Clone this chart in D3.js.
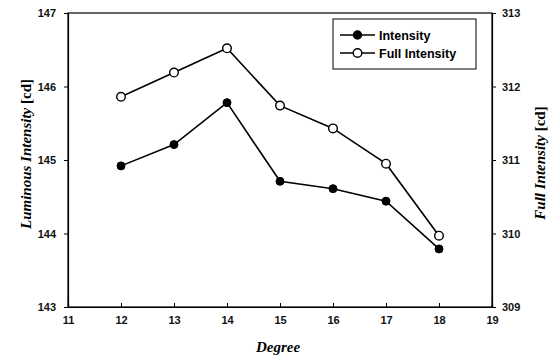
<!DOCTYPE html>
<html><head><meta charset="utf-8">
<script src="https://cdn.jsdelivr.net/npm/d3@7"></script>
<style>body{margin:0;background:#fff}svg{display:block}</style>
</head><body>
<svg id="c" width="551" height="360"></svg>
<script>
const degrees = [12, 13, 14, 15, 16, 17, 18];
const intensity = [144.92, 145.21, 145.78, 144.71, 144.61, 144.44, 143.79];
const fullIntensity = [311.86, 312.19, 312.52, 311.74, 311.43, 310.95, 309.97];
const xTicks = [11, 12, 13, 14, 15, 16, 17, 18, 19];
const yLeftTicks = [143, 144, 145, 146, 147];
const yRightTicks = [309, 310, 311, 312, 313];
const seriesNames = ["Intensity", "Full Intensity"];

const svg = d3.select("#c");
const L = 68, R = 492, T = 13, B = 307;
const x = d3.scaleLinear().domain([11, 19]).range([L, R]);
const yL = d3.scaleLinear().domain([143, 147]).range([B, T]);
const yR = d3.scaleLinear().domain([309, 313]).range([B, T]);
const tickFont = "bold 11px 'Liberation Sans', Arial, sans-serif";

// frame
svg.append("rect").attr("x", L).attr("y", T).attr("width", R - L).attr("height", B - T)
  .attr("fill", "none").attr("stroke", "#000").attr("stroke-width", 1.2);

// axes
const ax = svg.append("g").attr("transform", `translate(0,${B})`)
  .call(d3.axisBottom(x).tickValues(xTicks).tickSize(-4).tickPadding(9).tickFormat(d3.format("d")));
const ayl = svg.append("g").attr("transform", `translate(${L},0)`)
  .call(d3.axisLeft(yL).tickValues(yLeftTicks).tickSize(4).tickPadding(8).tickFormat(d3.format("d")));
const ayr = svg.append("g").attr("transform", `translate(${R},0)`)
  .call(d3.axisRight(yR).tickValues(yRightTicks).tickSize(4).tickPadding(6).tickFormat(d3.format("d")));
[ax, ayl, ayr].forEach(g => {
  g.select(".domain").attr("stroke", "#000").attr("stroke-width", 1.2);
  g.selectAll(".tick line").attr("stroke", "#000").attr("stroke-width", 1);
  g.selectAll(".tick text").style("font", tickFont).attr("fill", "#111");
});

// lines
const lineL = d3.line().x((d, i) => x(degrees[i])).y(d => yL(d));
const lineR = d3.line().x((d, i) => x(degrees[i])).y(d => yR(d));
svg.append("path").datum(intensity).attr("d", lineL).attr("fill", "none").attr("stroke", "#000").attr("stroke-width", 1.6);
svg.append("path").datum(fullIntensity).attr("d", lineR).attr("fill", "none").attr("stroke", "#000").attr("stroke-width", 1.6);
svg.selectAll(".pi").data(intensity).enter().append("circle")
  .attr("cx", (d, i) => x(degrees[i])).attr("cy", d => yL(d)).attr("r", 4)
  .attr("fill", "#000").attr("stroke", "#000");
svg.selectAll(".pf").data(fullIntensity).enter().append("circle")
  .attr("cx", (d, i) => x(degrees[i])).attr("cy", d => yR(d)).attr("r", 4.3)
  .attr("fill", "#fff").attr("stroke", "#000").attr("stroke-width", 1.4);

// legend
const lg = svg.append("g");
lg.append("rect").attr("x", 333).attr("y", 19).attr("width", 143).attr("height", 50)
  .attr("fill", "#fff").attr("stroke", "#000").attr("stroke-width", 1);
seriesNames.forEach((n, i) => {
  const yy = 35 + i * 18;
  lg.append("line").attr("x1", 340).attr("x2", 375).attr("y1", yy).attr("y2", yy).attr("stroke", "#000").attr("stroke-width", 1.6);
  lg.append("circle").attr("cx", 357.5).attr("cy", yy).attr("r", i === 0 ? 4 : 4.3)
    .attr("fill", i === 0 ? "#000" : "#fff").attr("stroke", "#000").attr("stroke-width", 1.4);
  lg.append("text").attr("x", 379).attr("y", yy).attr("dy", "0.36em").text(n)
    .style("font", "bold 12.5px 'Liberation Sans', Arial, sans-serif");
});

// axis titles
const titleFont = "bold italic 15px 'Liberation Serif', 'Times New Roman', serif";
function title(t, transform, main) {
  const tx = svg.append("text").attr("transform", transform).attr("text-anchor", "middle").style("font", titleFont);
  tx.append("tspan").text(main);
  if (t) tx.append("tspan").style("font-style", "normal").text(" [cd]");
  return tx;
}
svg.append("text").attr("x", 278).attr("y", 352).attr("text-anchor", "middle").text("Degree").style("font", titleFont);
title(true, "translate(31,154) rotate(-90)", "Luminous Intensity");
title(true, "translate(545,163) rotate(-90)", "Full Intensity");
</script>
</body></html>
